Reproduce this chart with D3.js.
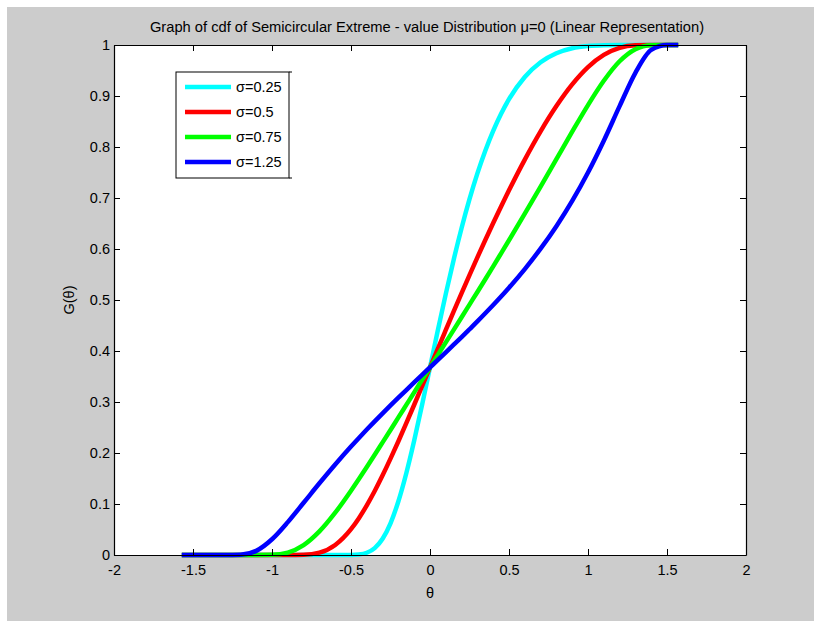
<!DOCTYPE html>
<html>
<head>
<meta charset="utf-8">
<script src="https://cdn.jsdelivr.net/npm/d3@7/dist/d3.min.js"></script>
<style>
  html, body { margin: 0; padding: 0; background: #ffffff; }
  svg { display: block; }
  text { font-family: "Liberation Sans", Arial, Helvetica, sans-serif; fill: #000; }
</style>
</head>
<body>
<svg id="chart" width="814" height="621"></svg>
<script>
// ---- data ----
const theta = [-1.5708, -1.5, -1.4, -1.3, -1.2, -1.1, -1.0, -0.9, -0.8, -0.7, -0.6,
  -0.5, -0.45, -0.4, -0.35, -0.3, -0.25, -0.2, -0.15, -0.1, -0.05, 0,
  0.05, 0.1, 0.15, 0.2, 0.25, 0.3, 0.35, 0.4, 0.45, 0.5,
  0.6, 0.7, 0.8, 0.9, 1.0, 1.1, 1.2, 1.3, 1.4, 1.5, 1.5708];

const g025 = [0, 0, 0, 0, 0, 0, 0, 0, 0, 0, 0,
  0.0001, 0.0010, 0.0044, 0.0135, 0.0319, 0.0622, 0.1054, 0.1603, 0.2245, 0.2948, 0.3679,
  0.4410, 0.5120, 0.5791, 0.6412, 0.6976, 0.7482, 0.7928, 0.8317, 0.8652, 0.8937,
  0.9373, 0.9662, 0.9839, 0.9936, 0.9980, 0.9996, 1.0, 1.0, 1.0, 1.0, 1.0];

const g050 = [0, 0, 0, 0, 0, 0, 0, 0, 0.0004, 0.0046, 0.0197,
  0.0507, 0.0722, 0.0974, 0.1255, 0.1562, 0.1889, 0.2231, 0.2585, 0.2946, 0.3311, 0.3679,
  0.4047, 0.4412, 0.4776, 0.5134, 0.5488, 0.5836, 0.6176, 0.6510, 0.6835, 0.7151,
  0.7753, 0.8307, 0.8802, 0.9227, 0.9566, 0.9805, 0.9942, 0.9993, 1.0, 1.0, 1.0];

const g075 = [0, 0, 0, 0, 0, 0, 0.0003, 0.0047, 0.0193, 0.0462, 0.0829,
  0.1260, 0.1489, 0.1725, 0.1965, 0.2208, 0.2452, 0.2698, 0.2943, 0.3188, 0.3434, 0.3679,
  0.3924, 0.4169, 0.4415, 0.4662, 0.4910, 0.5158, 0.5408, 0.5660, 0.5915, 0.6171,
  0.6692, 0.7223, 0.7762, 0.8300, 0.8822, 0.9298, 0.9681, 0.9918, 0.9996, 1.0, 1.0];

const g125 = [0, 0, 0, 0, 0.0004, 0.0081, 0.0309, 0.0645, 0.1024, 0.1406, 0.1775,
  0.2127, 0.2295, 0.2460, 0.2621, 0.2778, 0.2933, 0.3085, 0.3235, 0.3384, 0.3532, 0.3679,
  0.3826, 0.3974, 0.4123, 0.4273, 0.4426, 0.4580, 0.4739, 0.4902, 0.5069, 0.5242,
  0.5607, 0.6007, 0.6448, 0.6943, 0.7500, 0.8124, 0.8801, 0.9455, 0.9904, 1.0, 1.0];

const seriesNames = ["\u03c3=0.25", "\u03c3=0.5", "\u03c3=0.75", "\u03c3=1.25"];
const seriesValues = [g025, g050, g075, g125];
const seriesColors = ["#00ffff", "#ff0000", "#00ff00", "#0000ff"];

const xTicks = [-2, -1.5, -1, -0.5, 0, 0.5, 1, 1.5, 2];
const xTickLabels = ["-2", "-1.5", "-1", "-0.5", "0", "0.5", "1", "1.5", "2"];
const yTicks = [0, 0.1, 0.2, 0.3, 0.4, 0.5, 0.6, 0.7, 0.8, 0.9, 1];
const yTickLabels = ["0", "0.1", "0.2", "0.3", "0.4", "0.5", "0.6", "0.7", "0.8", "0.9", "1"];

const titleText = "Graph of cdf of Semicircular Extreme - value Distribution \u03bc=0 (Linear Representation)";
const xLabel = "\u03b8";
const yLabel = "G(\u03b8)";

// ---- layout ----
const svg = d3.select("#chart");
const L = 114, R = 746, T = 45, B = 555;

svg.append("rect").attr("x", 7).attr("y", 7).attr("width", 807).attr("height", 614).attr("fill", "#cccccc");
svg.append("rect").attr("x", L).attr("y", T).attr("width", R - L).attr("height", B - T).attr("fill", "#ffffff");

const x = d3.scaleLinear().domain([-2, 2]).range([L, R]);
const y = d3.scaleLinear().domain([0, 1]).range([B, T]);

// curves
const line = d3.line().x(d => x(d[0])).y(d => y(d[1])).curve(d3.curveMonotoneX);
const plot = svg.append("g");
seriesValues.forEach((vals, i) => {
  plot.append("path")
    .datum(theta.map((t, j) => [t, vals[j]]))
    .attr("fill", "none")
    .attr("stroke", seriesColors[i])
    .attr("stroke-width", 4.5)
    .attr("stroke-linejoin", "round")
    .attr("d", line);
});

// axes (ticks inside, on all sides)
const tickLen = 6;
const fmtX = (d, i) => xTickLabels[i];
const fmtY = (d, i) => yTickLabels[i];

const axB = svg.append("g").attr("transform", `translate(0,${B})`)
  .call(d3.axisBottom(x).tickValues(xTicks).tickFormat(fmtX).tickSizeInner(-tickLen).tickSizeOuter(0).tickPadding(10));
const axT = svg.append("g").attr("transform", `translate(0,${T})`)
  .call(d3.axisTop(x).tickValues(xTicks).tickFormat("").tickSizeInner(-tickLen).tickSizeOuter(0));
const axL = svg.append("g").attr("transform", `translate(${L},0)`)
  .call(d3.axisLeft(y).tickValues(yTicks).tickFormat(fmtY).tickSizeInner(-tickLen).tickSizeOuter(0).tickPadding(4));
const axR = svg.append("g").attr("transform", `translate(${R},0)`)
  .call(d3.axisRight(y).tickValues(yTicks).tickFormat("").tickSizeInner(-tickLen).tickSizeOuter(0));

[axB, axT, axL, axR].forEach(g => {
  g.selectAll(".domain").attr("stroke", "#000").attr("stroke-width", 1.2);
  g.selectAll(".tick line").attr("stroke", "#000");
  g.selectAll("text").style("font-family", "'Liberation Sans', Arial, sans-serif").style("font-size", "14.5px").attr("fill", "#000");
});

// title & labels
svg.append("text").attr("x", (L + R) / 2 - 3).attr("y", 32).attr("text-anchor", "middle")
  .style("font-size", "14.7px").text(titleText);
svg.append("text").attr("x", x(0)).attr("y", 598).attr("text-anchor", "middle")
  .style("font-size", "14.5px").text(xLabel);
svg.append("text").attr("transform", `translate(74,${(T + B) / 2}) rotate(-90)`).attr("text-anchor", "middle")
  .style("font-size", "14.5px").text(yLabel);

// legend
const lg = svg.append("g");
lg.append("rect").attr("x", 176).attr("y", 72).attr("width", 113).attr("height", 106)
  .attr("fill", "#ffffff").attr("stroke", "#000").attr("stroke-width", 1);
lg.append("line").attr("x1", 289).attr("x2", 292).attr("y1", 72).attr("y2", 72).attr("stroke", "#000");
lg.append("line").attr("x1", 289).attr("x2", 292).attr("y1", 178).attr("y2", 178).attr("stroke", "#000");
seriesNames.forEach((name, i) => {
  const yy = 87 + i * 25;
  lg.append("line").attr("x1", 185).attr("x2", 231).attr("y1", yy).attr("y2", yy)
    .attr("stroke", seriesColors[i]).attr("stroke-width", 4.5);
  lg.append("text").attr("x", 236).attr("y", yy + 5).style("font-size", "14.5px").text(name);
});
</script>
</body>
</html>
